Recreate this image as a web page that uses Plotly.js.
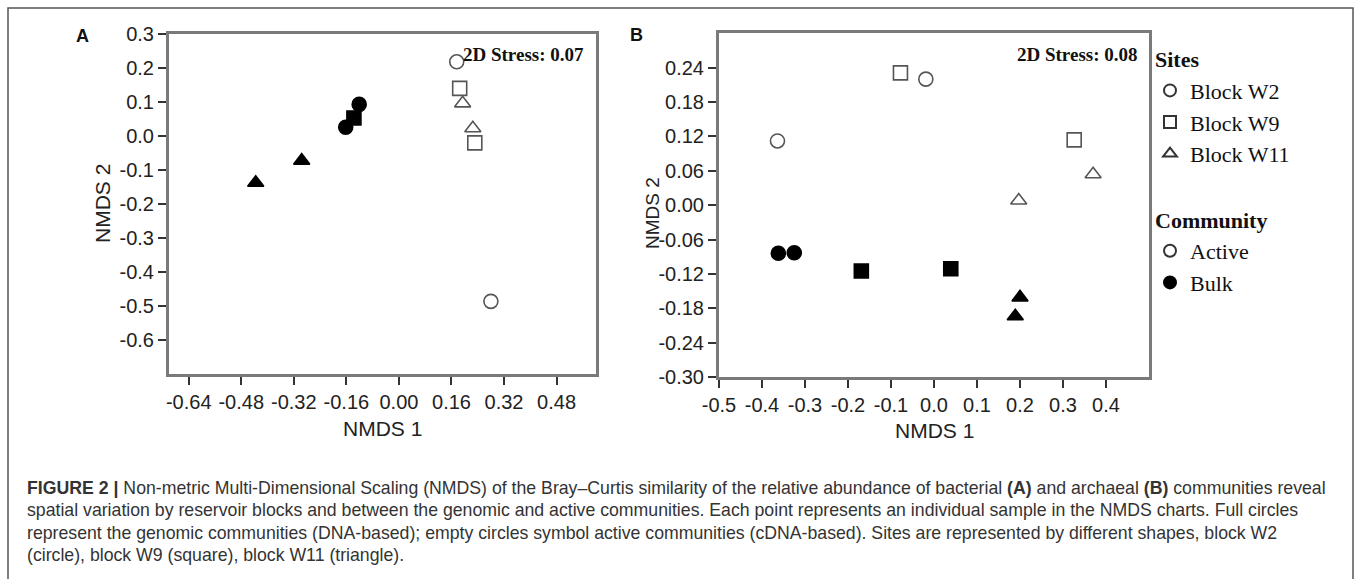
<!DOCTYPE html>
<html>
<head>
<meta charset="utf-8">
<script src="https://cdn.plot.ly/plotly-3.0.1.min.js"></script>
<style>html,body{margin:0;padding:0;background:#fff;}#chart{width:1357px;height:579px;}</style>
</head>
<body>
<div id="chart"></div>
<script>
// ---------- Data ----------
// Panel A: bacterial communities
const panelA_nmds1     = [0.176, 0.185, 0.194, 0.225, 0.231, 0.280, -0.121, -0.137, -0.162, -0.296, -0.436];
const panelA_nmds2     = [0.217, 0.139, 0.095, 0.022, -0.021, -0.486, 0.092, 0.052, 0.025, -0.073, -0.138];
const panelA_site      = ['W2', 'W9', 'W11', 'W11', 'W9', 'W2', 'W2', 'W9', 'W2', 'W11', 'W11'];
const panelA_community = ['Active','Active','Active','Active','Active','Active','Bulk','Bulk','Bulk','Bulk','Bulk'];

// Panel B: archaeal communities
const panelB_nmds1     = [-0.078, -0.019, -0.364, 0.326, 0.370, 0.197, -0.362, -0.325, -0.169, 0.039, 0.200, 0.189];
const panelB_nmds2     = [0.231, 0.220, 0.112, 0.114, 0.054, 0.008, -0.084, -0.083, -0.115, -0.111, -0.161, -0.194];
const panelB_site      = ['W9', 'W2', 'W2', 'W9', 'W11', 'W11', 'W2', 'W2', 'W9', 'W9', 'W11', 'W11'];
const panelB_community = ['Active','Active','Active','Active','Active','Active','Bulk','Bulk','Bulk','Bulk','Bulk','Bulk'];

// Tick labels
const panelA_xticks = [-0.64, -0.48, -0.32, -0.16, 0.00, 0.16, 0.32, 0.48];
const panelA_yticks = [0.3, 0.2, 0.1, 0.0, -0.1, -0.2, -0.3, -0.4, -0.5, -0.6];
const panelB_xticks = [-0.5, -0.4, -0.3, -0.2, -0.1, 0.0, 0.1, 0.2, 0.3, 0.4];
const panelB_yticks = [0.24, 0.18, 0.12, 0.06, 0.00, -0.06, -0.12, -0.18, -0.24, -0.30];

const stressA = '2D Stress: 0.07';
const stressB = '2D Stress: 0.08';

const siteNames = ['W2', 'W9', 'W11'];
const siteLabels = ['Block W2', 'Block W9', 'Block W11'];
const communityNames = ['Active', 'Bulk'];

const captionLines = [
  '<b>FIGURE 2 |</b> Non-metric Multi-Dimensional Scaling (NMDS) of the Bray–Curtis similarity of the relative abundance of bacterial <b>(A)</b> and archaeal <b>(B)</b> communities reveal',
  'spatial variation by reservoir blocks and between the genomic and active communities. Each point represents an individual sample in the NMDS charts. Full circles',
  'represent the genomic communities (DNA-based); empty circles symbol active communities (cDNA-based). Sites are represented by different shapes, block W2',
  '(circle), block W9 (square), block W11 (triangle).'
];

// ---------- Styling helpers ----------
const W = 1357, H = 579;
const px = v => v / W;
const py = v => 1 - v / H;
const symbolOf = { W2: 'circle', W9: 'square', W11: 'triangle-up' };
const OPEN_LINE = '#555555';

function markerFor(sites, comms) {
  return {
    symbol: sites.map(s => symbolOf[s]),
    size: 14,
    color: comms.map(c => c === 'Active' ? '#ffffff' : '#000000'),
    line: { color: comms.map(c => c === 'Active' ? OPEN_LINE : '#000000'), width: 1.6 }
  };
}

const traces = [
  { type: 'scatter', mode: 'markers', x: panelA_nmds1, y: panelA_nmds2, xaxis: 'x', yaxis: 'y',
    marker: markerFor(panelA_site, panelA_community), showlegend: false, hoverinfo: 'x+y' },
  { type: 'scatter', mode: 'markers', x: panelB_nmds1, y: panelB_nmds2, xaxis: 'x2', yaxis: 'y2',
    marker: markerFor(panelB_site, panelB_community), showlegend: false, hoverinfo: 'x+y' }
];

// legend-only entries
siteNames.forEach((s, i) => traces.push({
  type: 'scatter', mode: 'markers', x: [null], y: [null], xaxis: 'x2', yaxis: 'y2',
  name: siteLabels[i], legendgroup: 'sites',
  legendgrouptitle: { text: '<b>Sites</b>', font: { family: 'Liberation Serif, Times New Roman, serif', size: 22, color: '#111' } },
  marker: { symbol: symbolOf[s], size: 13, color: '#ffffff', line: { color: '#333', width: 2.2 } }
}));
communityNames.forEach(c => traces.push({
  type: 'scatter', mode: 'markers', x: [null], y: [null], xaxis: 'x2', yaxis: 'y2',
  name: c, legendgroup: 'community',
  legendgrouptitle: { text: '<b>Community</b>', font: { family: 'Liberation Serif, Times New Roman, serif', size: 22, color: '#111' } },
  marker: { symbol: 'circle', size: 13, color: c === 'Active' ? '#ffffff' : '#000000', line: { color: c === 'Active' ? '#333' : '#000', width: 2.2 } }
}));

const tickFont = { family: 'Liberation Sans, Arial, sans-serif', size: 20, color: '#222' };
const axisCommon = {
  showline: true, linecolor: '#7a7a7a', linewidth: 3, mirror: true,
  ticks: 'outside', ticklen: 8, tickwidth: 2, tickcolor: '#333',
  showgrid: false, zeroline: false, tickfont: tickFont, fixedrange: true
};

const annotations = [
  { text: '<b>A</b>', x: px(82), y: py(36), xref: 'paper', yref: 'paper', xanchor: 'center', yanchor: 'middle', showarrow: false,
    font: { family: 'Liberation Sans, Arial, sans-serif', size: 18, color: '#111' } },
  { text: '<b>B</b>', x: px(636), y: py(35), xref: 'paper', yref: 'paper', xanchor: 'center', yanchor: 'middle', showarrow: false,
    font: { family: 'Liberation Sans, Arial, sans-serif', size: 18, color: '#111' } },
  { text: '<b>' + stressA + '</b>', x: px(586), y: py(55), xref: 'paper', yref: 'paper', xanchor: 'right', yanchor: 'middle', showarrow: false,
    font: { family: 'Liberation Serif, Times New Roman, serif', size: 19, color: '#111' } },
  { text: '<b>' + stressB + '</b>', x: px(1140), y: py(55), xref: 'paper', yref: 'paper', xanchor: 'right', yanchor: 'middle', showarrow: false,
    font: { family: 'Liberation Serif, Times New Roman, serif', size: 19, color: '#111' } },
  { text: 'NMDS 1', x: px(382), y: py(428), xref: 'paper', yref: 'paper', xanchor: 'center', yanchor: 'middle', showarrow: false,
    font: { family: 'Liberation Sans, Arial, sans-serif', size: 21, color: '#222' } },
  { text: 'NMDS 1', x: px(934), y: py(430), xref: 'paper', yref: 'paper', xanchor: 'center', yanchor: 'middle', showarrow: false,
    font: { family: 'Liberation Sans, Arial, sans-serif', size: 21, color: '#222' } },
  { text: 'NMDS 2', x: px(103), y: py(204), xref: 'paper', yref: 'paper', xanchor: 'center', yanchor: 'middle', textangle: -90, showarrow: false,
    font: { family: 'Liberation Sans, Arial, sans-serif', size: 21, color: '#222' } },
  { text: 'NMDS 2', x: px(653), y: py(213), xref: 'paper', yref: 'paper', xanchor: 'center', yanchor: 'middle', textangle: -90, showarrow: false,
    font: { family: 'Liberation Sans, Arial, sans-serif', size: 19, color: '#222' } }
];
const captionY = [488, 510.5, 532.5, 555];
captionLines.forEach((t, i) => annotations.push({
  text: t, x: px(25), y: py(captionY[i]), xref: 'paper', yref: 'paper', xanchor: 'left', yanchor: 'middle', showarrow: false,
  font: { family: 'Liberation Sans, Arial, Helvetica, sans-serif', size: 17.7, color: '#333' }
}));

const layout = {
  width: W, height: H,
  margin: { l: 0, r: 0, t: 0, b: 0 },
  paper_bgcolor: '#ffffff', plot_bgcolor: '#ffffff',
  xaxis: Object.assign({}, axisCommon, { domain: [px(169), px(596)], range: [-0.7, 0.6],
    tickvals: panelA_xticks, ticktext: panelA_xticks.map(v => v.toFixed(2)), anchor: 'y' }),
  yaxis: Object.assign({}, axisCommon, { domain: [py(374.3), py(33.5)], range: [-0.7, 0.3],
    tickvals: panelA_yticks, ticktext: panelA_yticks.map(v => v.toFixed(1)), anchor: 'x' }),
  xaxis2: Object.assign({}, axisCommon, { domain: [px(719), px(1149)], range: [-0.5, 0.5],
    tickvals: panelB_xticks, ticktext: panelB_xticks.map(v => v.toFixed(1)), anchor: 'y2' }),
  yaxis2: Object.assign({}, axisCommon, { domain: [py(377), py(33.3)], range: [-0.30, 0.30],
    tickvals: panelB_yticks, ticktext: panelB_yticks.map(v => v.toFixed(2)), anchor: 'x2' }),
  showlegend: true,
  legend: {
    x: px(1150), y: py(38), xanchor: 'left', yanchor: 'top',
    font: { family: 'Liberation Serif, Times New Roman, serif', size: 22, color: '#111' },
    traceorder: 'grouped', tracegroupgap: 34, itemsizing: 'constant',
    bgcolor: 'rgba(0,0,0,0)', borderwidth: 0
  },
  shapes: [
    { type: 'rect', xref: 'paper', yref: 'paper', x0: px(8), x1: px(1353), y0: -0.02, y1: py(8),
      line: { color: '#555', width: 1.5 }, fillcolor: 'rgba(0,0,0,0)', layer: 'below' }
  ],
  annotations: annotations,
  hovermode: 'closest'
};

Plotly.newPlot('chart', traces, layout, { displayModeBar: false, staticPlot: true });
</script>
</body>
</html>
